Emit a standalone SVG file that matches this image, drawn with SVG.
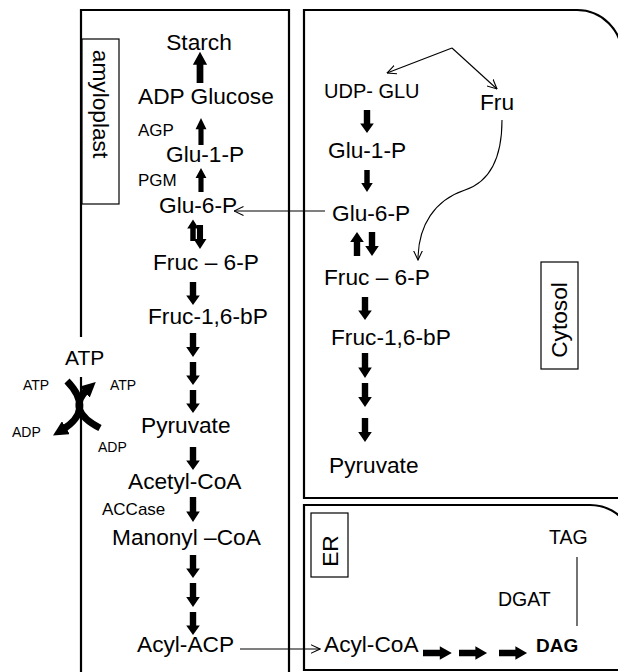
<svg xmlns="http://www.w3.org/2000/svg" xmlns:xlink="http://www.w3.org/1999/xlink" width="618" height="672" viewBox="0 0 618 672">
<style>
text{font-family:"Liberation Sans",Arial,sans-serif;fill:#000}
.m{font-size:22.7px}
.s{font-size:17px}
.t{font-size:14px}
.c{font-size:20px}
.b{fill:none;stroke:#000;stroke-width:2.2}
.lb{fill:#fff;stroke:#000;stroke-width:1.2}
.cn{fill:none;stroke:#000;stroke-width:1.1}
.blk{fill:#000}
</style>
<defs>
<path id="ad" d="M-3.2,0 H3.2 V14 H6.8 L0,24 L-6.8,14 H-3.2 Z"/>
<marker id="oa" viewBox="0 0 10 10" refX="9.5" refY="5" markerWidth="10" markerHeight="10" markerUnits="userSpaceOnUse" orient="auto">
<path d="M0,0.5 L9.5,5 L0,9.5" fill="none" stroke="#000" stroke-width="1.1"/>
</marker>
<marker id="fa" viewBox="0 0 10 10" refX="3" refY="5" markerWidth="15" markerHeight="15" markerUnits="userSpaceOnUse" orient="auto">
<path d="M0,0 L10,5 L0,10 Z" fill="#000"/>
</marker>
</defs>

<g id="compartments">
<path class="b" d="M81,337 V10 H289 V672"/>
<path class="b" d="M81,377 V672"/>
<path class="b" d="M304,498 V10 H577 A45,45 0 0 1 622,55 V498 Z"/>
<path class="b" d="M304,670 V505 H590 A45,45 0 0 1 635,550 V670 Z"/>
</g>

<g id="amyloplast-label">
<rect class="lb" x="82" y="39" width="37" height="165"/>
<text class="m" text-anchor="middle" transform="translate(93,104) rotate(90)">amyloplast</text>
</g>
<g id="cytosol-label">
<rect class="lb" x="541" y="262" width="37" height="107"/>
<text class="m" text-anchor="middle" transform="translate(567,320) rotate(-90)">Cytosol</text>
</g>
<g id="er-label">
<rect class="lb" x="311" y="513" width="37" height="64"/>
<text class="m" text-anchor="middle" transform="translate(338,551) rotate(-90)">ER</text>
</g>

<g id="n-starch"><text class="m" x="199" y="50" text-anchor="middle">Starch</text></g>
<g id="n-adpglucose"><text class="m" x="138" y="104">ADP Glucose</text></g>
<g id="n-agp"><text class="s" x="138" y="136">AGP</text></g>
<g id="n-glu1p-a"><text class="m" x="166" y="162">Glu-1-P</text></g>
<g id="n-pgm"><text class="s" x="138" y="186">PGM</text></g>
<g id="n-glu6p-a"><text class="m" x="159" y="213">Glu-6-P</text></g>
<g id="n-fruc6p-a"><text class="m" x="153" y="270">Fruc – 6-P</text></g>
<g id="n-fruc16bp-a"><text class="m" x="148" y="324">Fruc-1,6-bP</text></g>
<g id="n-pyruvate-a"><text class="m" x="141" y="433">Pyruvate</text></g>
<g id="n-acetylcoa"><text class="m" x="128" y="489">Acetyl-CoA</text></g>
<g id="n-accase"><text class="s" x="102" y="515">ACCase</text></g>
<g id="n-manonylcoa"><text class="m" x="112" y="545">Manonyl –CoA</text></g>
<g id="n-acylacp"><text class="m" x="137" y="652">Acyl-ACP</text></g>

<g id="n-atp-transport">
<text x="65" y="365" style="font-size:21px">ATP</text>
<text class="t" x="23" y="390">ATP</text>
<text class="t" x="110" y="390">ATP</text>
<text class="t" x="12" y="437">ADP</text>
<text class="t" x="98" y="452">ADP</text>
<path d="M67,381 Q95,410 62,430" fill="none" stroke="#000" stroke-width="7" marker-end="url(#fa)"/>
<path d="M100,428 Q65,410 88,389" fill="none" stroke="#000" stroke-width="7" marker-end="url(#fa)"/>
</g>

<g id="n-udpglu"><text class="c" x="324" y="98">UDP- GLU</text></g>
<g id="n-fru"><text class="m" x="480" y="110">Fru</text></g>
<g id="n-glu1p-c"><text class="m" x="328" y="158">Glu-1-P</text></g>
<g id="n-glu6p-c"><text class="m" x="332" y="221">Glu-6-P</text></g>
<g id="n-fruc6p-c"><text class="m" x="324" y="285">Fruc – 6-P</text></g>
<g id="n-fruc16bp-c"><text class="m" x="331" y="345">Fruc-1,6-bP</text></g>
<g id="n-pyruvate-c"><text class="m" x="329" y="473">Pyruvate</text></g>

<g id="n-acylcoa"><text class="m" x="324" y="652">Acyl-CoA</text></g>
<g id="n-dag"><text x="536" y="652" style="font-size:19px;font-weight:bold">DAG</text></g>
<g id="n-tag"><text x="549" y="544" style="font-size:19.5px">TAG</text></g>
<g id="n-dgat"><text x="498" y="606" style="font-size:19.5px">DGAT</text></g>

<g id="connectors">
<g class="blk">
<use xlink:href="#ad" transform="translate(200,83) rotate(180) scale(1.05,1.3)"/>
<use xlink:href="#ad" transform="translate(201,145) rotate(180) scale(0.8,1.12)"/>
<use xlink:href="#ad" transform="translate(201,192) rotate(180) scale(0.8,1)"/>
<use xlink:href="#ad" transform="translate(193,241) rotate(180) scale(0.85,0.9)"/>
<use xlink:href="#ad" transform="translate(200,225) scale(0.95,1)"/>
<use xlink:href="#ad" transform="translate(193,282) scale(1,0.96)"/>
<use xlink:href="#ad" transform="translate(193,333)"/>
<use xlink:href="#ad" transform="translate(193,362) scale(1,0.96)"/>
<use xlink:href="#ad" transform="translate(193,390) scale(1,0.96)"/>
<use xlink:href="#ad" transform="translate(193,447) scale(1,0.96)"/>
<use xlink:href="#ad" transform="translate(193,497) scale(1,1.04)"/>
<use xlink:href="#ad" transform="translate(193,555) scale(1,0.96)"/>
<use xlink:href="#ad" transform="translate(193,583)"/>
<use xlink:href="#ad" transform="translate(193,612) scale(1,0.96)"/>

<use xlink:href="#ad" transform="translate(367,110) scale(1,0.96)"/>
<use xlink:href="#ad" transform="translate(367,170) scale(0.85,0.92)"/>
<use xlink:href="#ad" transform="translate(357,256) rotate(180)"/>
<use xlink:href="#ad" transform="translate(372,232)"/>
<use xlink:href="#ad" transform="translate(365,297) scale(1,0.96)"/>
<use xlink:href="#ad" transform="translate(365,353) scale(1,1.04)"/>
<use xlink:href="#ad" transform="translate(365,383)"/>
<use xlink:href="#ad" transform="translate(365,418)"/>

<use xlink:href="#ad" transform="translate(423,653) rotate(-90) scale(1,1.2)"/>
<use xlink:href="#ad" transform="translate(459,653) rotate(-90) scale(1,1.17)"/>
<use xlink:href="#ad" transform="translate(499,653) rotate(-90) scale(1,1.17)"/>
</g>
<line class="cn" x1="325" y1="211" x2="234" y2="211" marker-end="url(#oa)"/>
<line class="cn" x1="240" y1="649" x2="320" y2="649" marker-end="url(#oa)"/>
<line class="cn" x1="452" y1="48" x2="387" y2="73" marker-end="url(#oa)"/>
<line class="cn" x1="452" y1="48" x2="497" y2="89" marker-end="url(#oa)"/>
<path class="cn" d="M502,120 C502,150 495,180 465,190 C435,200 418,225 418,260" marker-end="url(#oa)"/>
<line class="cn" x1="577" y1="557" x2="577" y2="626"/>
</g>
</svg>
